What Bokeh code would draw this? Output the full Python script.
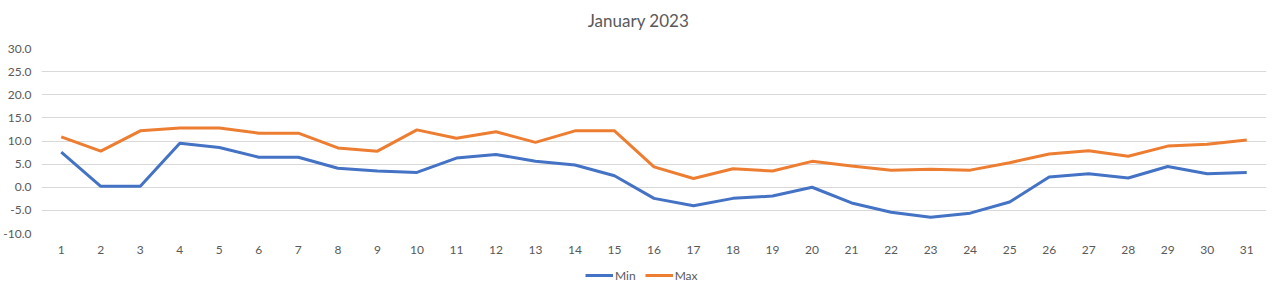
from bokeh.plotting import figure
from bokeh.layouts import column
from bokeh.models import Range1d, FixedTicker, NumeralTickFormatter, Legend, LegendItem, Label
from bokeh.embed import file_html
from bokeh.resources import INLINE

days = list(range(1, 32))
min_vals = [7.6, 0.2, 0.2, 9.5, 8.6, 6.5, 6.5, 4.1, 3.5, 3.2,
            6.3, 7.1, 5.6, 4.8, 2.5, -2.4, -4.0, -2.4, -1.9, 0.0,
            -3.4, -5.4, -6.5, -5.6, -3.2, 2.2, 2.9, 2.0, 4.5, 2.9, 3.2]
max_vals = [10.9, 7.8, 12.2, 12.8, 12.8, 11.7, 11.7, 8.5, 7.8, 12.4,
            10.6, 12.0, 9.7, 12.2, 12.2, 4.4, 1.9, 4.0, 3.5, 5.6,
            4.6, 3.7, 3.9, 3.7, 5.3, 7.2, 7.9, 6.7, 8.9, 9.3, 10.2]
y_ticks = [-10, -5, 0, 5, 10, 15, 20, 25, 30]
title_text = "January 2023"
series_names = ["Min", "Max"]
series_colors = ["#4472C4", "#ED7D31"]

FONT = "Lato"
TXT = "#595959"
LEFT = 41

def strip(h):
    f = figure(width=1279, height=h, output_backend="svg", toolbar_location=None,
               x_range=Range1d(100, 101), y_range=Range1d(100, 101),
               x_axis_location=None, y_axis_location=None,
               min_border_left=LEFT, min_border_right=13, min_border_top=0, min_border_bottom=0)
    f.grid.visible = False
    f.outline_line_color = None
    return f

# title strip
p0 = strip(40)
p0.add_layout(Label(x=638 - LEFT, y=20, x_units="screen", y_units="screen", text=title_text,
                    text_font=FONT, text_font_size="17px", text_color=TXT,
                    text_align="center", text_baseline="middle"))

# main chart
p = figure(width=1279, height=216, output_backend="svg", toolbar_location=None,
           x_range=Range1d(0.5, 31.5), y_range=Range1d(-10, 30),
           min_border_left=LEFT, min_border_right=13, min_border_top=8, min_border_bottom=23)
p.title = None
p.outline_line_color = None
p.background_fill_color = "white"
p.border_fill_color = "white"

p.xaxis.ticker = FixedTicker(ticks=days)
p.yaxis.ticker = FixedTicker(ticks=y_ticks)
p.yaxis.formatter = NumeralTickFormatter(format="0.0")
for ax in (p.xaxis[0], p.yaxis[0]):
    ax.axis_line_color = None
    ax.major_tick_line_color = None
    ax.minor_tick_line_color = None
    ax.major_label_text_font = FONT
    ax.major_label_text_font_size = "12px"
    ax.major_label_text_color = TXT
p.xaxis.major_label_standoff = 6
p.yaxis.major_label_standoff = 4

p.xgrid.grid_line_color = None
p.ygrid.grid_line_color = "#d9d9d9"
p.ygrid.grid_line_width = 1

p.line(days, min_vals, line_color=series_colors[0], line_width=3)
p.line(days, max_vals, line_color=series_colors[1], line_width=3)

# legend strip below the chart
p2 = strip(38)
l1 = p2.line(days, min_vals, line_color=series_colors[0], line_width=3)
l2 = p2.line(days, max_vals, line_color=series_colors[1], line_width=3)
legend = Legend(items=[LegendItem(label=series_names[0], renderers=[l1]),
                       LegendItem(label=series_names[1], renderers=[l2])],
                orientation="horizontal", location=(585 - LEFT, 11),
                label_text_font=FONT, label_text_font_size="12px", label_text_color=TXT,
                glyph_width=28, glyph_height=16, label_standoff=2, spacing=9, padding=0, margin=0,
                border_line_color=None, background_fill_alpha=0)
p2.add_layout(legend)

layout = column(p0, p, p2, spacing=0)
open("out.html", "w").write(file_html(layout, INLINE))
